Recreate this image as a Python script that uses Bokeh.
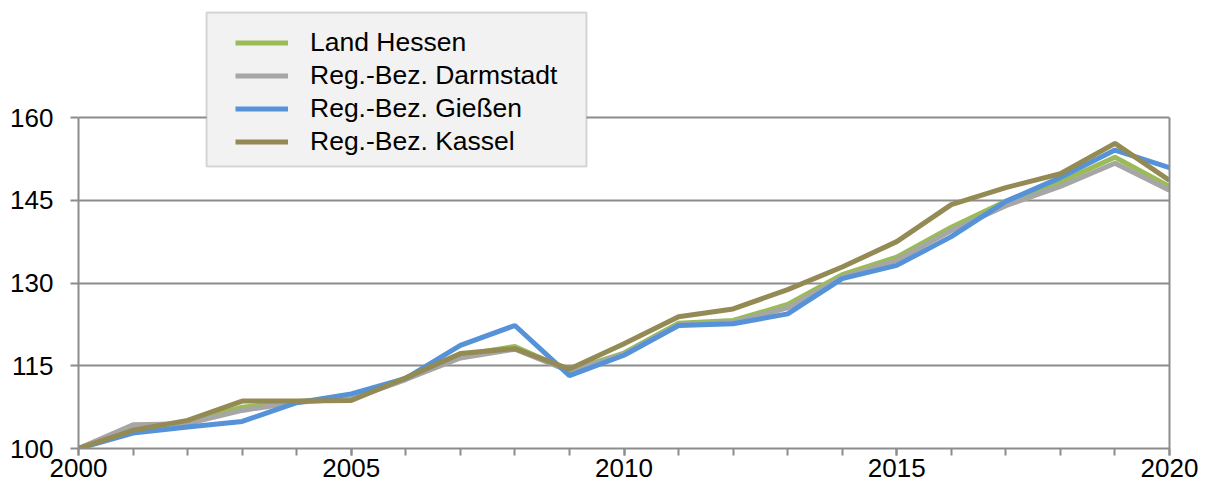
from bokeh.plotting import figure
from bokeh.models import (Range1d, FixedTicker, SingleIntervalTicker, Legend, LegendItem,
                          LinearAxis, BoxAnnotation)
from bokeh.embed import file_html
from bokeh.resources import INLINE

years = list(range(2000, 2021))
hessen =    [100, 103.6, 104.8, 107.5, 108.5, 109.0, 112.6, 116.9, 118.5, 114.1, 117.3, 122.7, 123.2, 126.1, 131.5, 134.7, 140.1, 144.8, 148.3, 152.8, 147.5]
darmstadt = [100, 104.3, 104.5, 106.9, 108.4, 109.0, 112.5, 116.4, 118.0, 114.0, 117.1, 122.4, 122.9, 125.5, 131.0, 134.1, 139.5, 144.0, 147.5, 151.7, 146.8]
giessen =   [100, 102.8, 103.9, 104.9, 108.3, 109.9, 112.7, 118.7, 122.3, 113.2, 116.9, 122.3, 122.6, 124.4, 130.8, 133.2, 138.4, 144.8, 149.1, 154.1, 150.9]
kassel =    [100, 103.3, 105.1, 108.6, 108.6, 108.7, 112.8, 117.2, 118.1, 114.4, 119.0, 123.9, 125.3, 128.8, 132.9, 137.5, 144.2, 147.3, 149.8, 155.3, 148.6]

names = ["Land Hessen", "Reg.-Bez. Darmstadt", "Reg.-Bez. Gießen", "Reg.-Bez. Kassel"]
colors = ["#9BBB59", "#A6A6A6", "#5592D8", "#948A54"]
series = [hessen, darmstadt, giessen, kassel]
y_ticks = [100, 115, 130, 145, 160]

FONT = "Liberation Sans"
AX = "#8C8C8C"

# layout in pixels
W, H = 1207, 491
LEFT, RIGHT_PX, TOP, BOTTOM_PX = 78, 1169, 0, 448
px_per_unit = (BOTTOM_PX - 117) / (160 - 100)       # 160 sits at y=117
px_per_year = (RIGHT_PX - LEFT) / (2020 - 2000)
y_top = 100 + (BOTTOM_PX - TOP) / px_per_unit

p = figure(width=W, height=H, output_backend="svg", toolbar_location=None,
           x_range=Range1d(2000, 2020), y_range=Range1d(100, y_top),
           min_border_left=LEFT, min_border_right=W - RIGHT_PX,
           min_border_top=TOP, min_border_bottom=H - BOTTOM_PX)
p.background_fill_color = "white"
p.border_fill_color = "white"
p.outline_line_color = None

p.xgrid.visible = False
p.ygrid.ticker = FixedTicker(ticks=y_ticks)
p.ygrid.grid_line_color = AX
p.ygrid.grid_line_width = 2

p.yaxis.ticker = FixedTicker(ticks=y_ticks)
p.yaxis.bounds = (100, 160)
p.yaxis.minor_tick_line_color = None
p.yaxis.major_tick_out = 8
p.yaxis.major_tick_in = 0
p.yaxis.major_label_standoff = 17

p.xaxis.ticker = SingleIntervalTicker(interval=5, num_minor_ticks=5)
p.xaxis.major_tick_out = 7
p.xaxis.major_tick_in = 0
p.xaxis.minor_tick_out = 7
p.xaxis.minor_tick_in = 0
p.xaxis.minor_tick_line_color = AX
p.xaxis.minor_tick_line_width = 2
p.xaxis.major_label_standoff = 3

for ax in (p.xaxis, p.yaxis):
    ax.axis_line_color = AX
    ax.axis_line_width = 2
    ax.major_tick_line_color = AX
    ax.major_tick_line_width = 2
    ax.major_label_text_font = FONT
    ax.major_label_text_font_size = "26px"
    ax.major_label_text_color = "black"

right_axis = LinearAxis(ticker=FixedTicker(ticks=[]), bounds=(100, 160),
                        axis_line_color=AX, axis_line_width=2,
                        major_tick_line_color=None, minor_tick_line_color=None,
                        major_label_text_font_size="0px")
p.add_layout(right_axis, "right")

items = []
for name, col, ys in zip(names, colors, series):
    r = p.line(years, ys, line_color=col, line_width=5)
    items.append(LegendItem(label=name, renderers=[r]))

# legend box (pixel geometry converted to data space)
bx0, bx1, by0, by1 = 206, 586, 12, 166
box = BoxAnnotation(left=2000 + (bx0 - LEFT) / px_per_year,
                    right=2000 + (bx1 - LEFT) / px_per_year,
                    top=100 + (BOTTOM_PX - by0) / px_per_unit,
                    bottom=100 + (BOTTOM_PX - by1) / px_per_unit,
                    fill_color="#F2F2F2", fill_alpha=1.0,
                    line_color="#808080", line_width=2)
p.add_layout(box)

row_h = 33
glyph_x = 235
first_row_top = 25.5
legend = Legend(items=items,
                location=(glyph_x - LEFT, BOTTOM_PX - (first_row_top + 4 * row_h)),
                label_text_font=FONT, label_text_font_size="26.5px", label_text_color="black",
                glyph_width=53, glyph_height=row_h, label_height=row_h, label_width=250,
                label_standoff=22, spacing=0, padding=0, margin=0,
                background_fill_alpha=0.0, border_line_color=None)
p.add_layout(legend, "center")

open("out.html", "w").write(file_html(p, INLINE))
